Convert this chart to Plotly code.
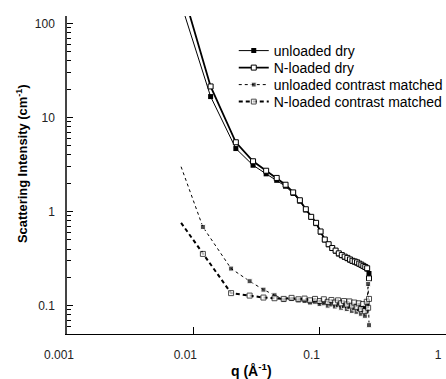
import plotly.graph_objects as go

# ---- data ----
q_dry = [0.0057, 0.0137, 0.0217, 0.0297, 0.0377, 0.0457, 0.0537, 0.0617, 0.0697, 0.0777,
         0.0857, 0.0937, 0.1017, 0.1097, 0.1177, 0.1257, 0.1337, 0.1417, 0.1497, 0.1577,
         0.1657, 0.1737, 0.1817, 0.1897, 0.1977, 0.2057, 0.2137, 0.2217, 0.2297, 0.2377, 0.2457]
unloaded_dry = [680, 16.7, 4.68, 3.11, 2.52, 2.15, 1.86, 1.56, 1.29, 1.04,
                0.87, 0.745, 0.605, 0.50, 0.445, 0.405, 0.38, 0.355, 0.34, 0.327,
                0.316, 0.305, 0.296, 0.29, 0.283, 0.276, 0.268, 0.262, 0.255, 0.245, 0.22]
nloaded_dry = [1200, 21.4, 5.46, 3.43, 2.72, 2.28, 1.93, 1.60, 1.32, 1.06,
               0.88, 0.76, 0.615, 0.505, 0.45, 0.41, 0.385, 0.36, 0.345, 0.332,
               0.322, 0.31, 0.30, 0.295, 0.289, 0.28, 0.273, 0.265, 0.258, 0.25, 0.195]

q_cm = [0.0080, 0.0119, 0.0199, 0.0279, 0.0359, 0.0439, 0.0519, 0.0599, 0.0679, 0.0759,
        0.0839, 0.0919, 0.0999, 0.1079, 0.1159, 0.1239, 0.1319, 0.1399, 0.1479, 0.1559,
        0.1639, 0.1719, 0.1799, 0.1879, 0.1959, 0.2039, 0.2119, 0.2199, 0.2279, 0.2359,
        0.2419, 0.2459]
unloaded_cm = [3.0, 0.687, 0.248, 0.182, 0.148, 0.129, 0.116, 0.118, 0.114, 0.112,
               0.108, 0.110, 0.104, 0.106, 0.100, 0.103, 0.098, 0.101, 0.095, 0.099,
               0.092, 0.097, 0.088, 0.094, 0.086, 0.092, 0.082, 0.090, 0.078, 0.087,
               0.17, 0.062]
nloaded_cm = [0.76, 0.355, 0.136, 0.128, 0.122, 0.120, 0.118, 0.121, 0.117, 0.119,
              0.114, 0.118, 0.112, 0.117, 0.110, 0.115, 0.108, 0.114, 0.106, 0.112,
              0.103, 0.111, 0.100, 0.108, 0.097, 0.106, 0.092, 0.104, 0.088, 0.110,
              0.095, 0.118]

names = ["unloaded dry", "N-loaded dry", "unloaded contrast matched", "N-loaded contrast matched"]
x_ticks = ["0.001", "0.01", "0.1", "1"]

FONT = "Liberation Sans, Arial, sans-serif"

# first contrast-matched point drawn without marker
cm_sizes = [0] + [5] * (len(q_cm) - 1)

fig = go.Figure()
fig.add_trace(go.Scatter(
    x=q_dry, y=unloaded_dry, name=names[0], mode="lines+markers", legend="legend",
    line=dict(color="black", width=1),
    marker=dict(symbol="square", size=5, color="black")))
fig.add_trace(go.Scatter(
    x=q_dry, y=nloaded_dry, name=names[1], mode="lines+markers", legend="legend2",
    line=dict(color="black", width=1.8),
    marker=dict(symbol="square", size=5, color="white", line=dict(color="black", width=1))))
fig.add_trace(go.Scatter(
    x=q_cm, y=unloaded_cm, name=names[2], mode="lines+markers", legend="legend3",
    line=dict(color="black", width=1, dash="3px,3px"),
    marker=dict(symbol="square", size=cm_sizes, color="black")))
fig.add_trace(go.Scatter(
    x=q_cm, y=nloaded_cm, name=names[3], mode="lines+markers", legend="legend4",
    line=dict(color="black", width=2, dash="4px,3px"),
    marker=dict(symbol="square", size=cm_sizes, color="white", line=dict(color="black", width=1))))

def leg(ypix):
    return dict(x=0.44, y=(334 - ypix) / 318, xanchor="left", yanchor="middle",
                bgcolor="rgba(0,0,0,0)", font=dict(size=14, family=FONT, color="black"),
                itemwidth=30)

fig.update_layout(
    width=446, height=379,
    margin=dict(l=67, r=0, t=16, b=45, autoexpand=False),
    paper_bgcolor="white", plot_bgcolor="white",
    font=dict(family=FONT, color="black"),
    showlegend=True,
    legend=leg(51), legend2=leg(68), legend3=leg(85), legend4=leg(102),
)
fig.update_xaxes(
    type="log", range=[-3, 0], showgrid=False, zeroline=False,
    showline=True, linecolor="black", linewidth=1.3,
    tickmode="array", tickvals=[0.001, 0.01, 0.1, 1], ticktext=x_ticks,
    ticks="inside", ticklen=7, tickcolor="black", tickwidth=1,
    tickfont=dict(size=12, color="#222", family=FONT),
    ticklabelshift=-8, ticklabelstandoff=9, automargin=False,
)
fig.update_yaxes(
    type="log", range=[-1.30103, 2.0792], showgrid=False, zeroline=False,
    showline=True, linecolor="#444", linewidth=1.5,
    dtick=1, ticks="inside", ticklen=6, tickcolor="black", tickwidth=1,
    minor=dict(ticks="inside", ticklen=4, tickcolor="black", dtick="D1", showgrid=False),
    tickfont=dict(size=12, color="#222", family=FONT),
    ticklabelstandoff=8, automargin=False,
)
fig.add_annotation(text="<b>Scattering Intensity (cm<sup>-1</sup>)</b>", xref="paper", yref="paper",
                   x=-0.1187, y=0.5346, xanchor="center", yanchor="middle", textangle=-90,
                   showarrow=False, font=dict(size=12.9, family=FONT, color="black"))
fig.add_annotation(text="<b>q (Å<sup>-1</sup>)</b>", xref="paper", yref="paper",
                   x=0.4855, y=-0.112, xanchor="center", yanchor="middle",
                   showarrow=False, font=dict(size=14, family=FONT, color="black"))

fig.write_html("out.html", config={"displayModeBar": False},
               post_script="document.body.style.margin='0px';")
